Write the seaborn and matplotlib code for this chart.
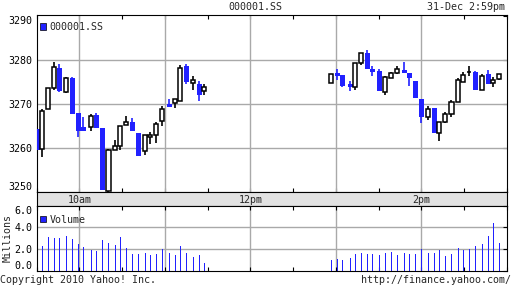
import matplotlib
matplotlib.use("Agg")
import matplotlib.pyplot as plt
import matplotlib.transforms as mtransforms
from matplotlib.patches import Patch
import seaborn as sns
import numpy as np
import pandas as pd

# ---------------- data ----------------
# time of each 000001.SS candle, minutes after 09:30
am_time = [0.5, 4.0, 8.2, 12.5, 16.0, 20.9, 25.1, 29.3, 32.8, 38.4, 41.9, 46.1, 50.4, 55.3, 58.8,
           63.0, 67.2, 71.4, 76.3, 79.8, 84.0, 88.2, 93.2, 97.4, 100.9, 105.1, 110.0, 114.2, 117.7]
pm_time = [206.8, 211.1, 214.6, 220.2, 223.7, 227.9, 232.1, 235.6, 240.5, 244.7, 248.9, 253.2,
           258.1, 261.6, 265.8, 270.0, 274.9, 279.1, 282.6, 286.8, 291.1, 296.0, 299.5, 303.7,
           307.9, 312.8, 317.0, 320.5, 324.7]

am_open = [3264.4, 3259.8, 3268.9, 3273.6, 3278.2, 3272.8, 3276.0, 3268.0, 3264.8, 3264.8, 3267.6,
           3264.6, 3250.3, 3259.5, 3260.5, 3265.2, 3265.9, 3263.4, 3259.3, 3262.5, 3263.0, 3266.1,
           3270.0, 3270.2, 3270.7, 3278.8, 3274.8, 3274.5, 3273.0]
am_high = [3264.4, 3268.9, 3273.6, 3279.5, 3279.2, 3276.1, 3276.1, 3268.0, 3267.0, 3267.7, 3268.0,
           3264.6, 3259.9, 3261.9, 3265.0, 3267.3, 3266.8, 3263.4, 3263.0, 3263.6, 3265.9, 3269.6,
           3271.1, 3271.1, 3278.9, 3279.2, 3276.4, 3275.3, 3274.7]
am_low = [3259.5, 3257.9, 3268.9, 3273.3, 3272.8, 3272.5, 3267.7, 3262.6, 3264.0, 3263.8, 3264.5,
          3250.5, 3250.0, 3259.5, 3259.5, 3265.2, 3263.9, 3258.3, 3258.5, 3260.9, 3261.1, 3265.0,
          3269.4, 3269.2, 3270.7, 3274.5, 3273.2, 3270.8, 3272.0]
am_close = [3259.5, 3268.5, 3273.6, 3278.4, 3273.1, 3275.9, 3267.7, 3263.8, 3264.0, 3267.3, 3264.5,
            3250.5, 3259.6, 3260.5, 3265.0, 3265.9, 3263.9, 3258.3, 3263.0, 3263.0, 3265.5, 3268.9,
            3269.4, 3271.1, 3278.3, 3275.0, 3275.5, 3272.0, 3273.9]

pm_open = [3274.8, 3277.1, 3276.7, 3274.6, 3274.0, 3279.3, 3281.6, 3278.0, 3277.6, 3272.7, 3275.9,
           3277.0, 3277.7, 3277.1, 3275.3, 3271.2, 3267.0, 3269.1, 3263.4, 3266.0, 3267.7, 3270.5,
           3275.0, 3277.3, 3277.3, 3273.2, 3276.9, 3274.8, 3275.7]
pm_high = [3276.8, 3278.0, 3276.7, 3275.3, 3279.3, 3281.7, 3282.3, 3278.7, 3278.0, 3276.4, 3277.4,
           3278.6, 3279.6, 3277.1, 3275.3, 3271.2, 3269.6, 3269.1, 3265.9, 3268.2, 3271.0, 3275.9,
           3277.3, 3278.7, 3277.6, 3276.8, 3277.7, 3276.1, 3276.8]
pm_low = [3274.8, 3275.4, 3273.9, 3272.9, 3273.2, 3279.0, 3278.1, 3276.3, 3272.9, 3272.0, 3275.9,
          3276.8, 3277.2, 3274.2, 3271.3, 3265.8, 3266.3, 3263.5, 3261.7, 3265.8, 3267.0, 3270.5,
          3275.0, 3276.4, 3273.3, 3273.2, 3274.5, 3274.0, 3275.4]
pm_close = [3276.8, 3276.4, 3274.2, 3273.8, 3279.3, 3281.6, 3278.1, 3277.4, 3272.9, 3276.1, 3277.0,
            3278.0, 3277.2, 3276.0, 3271.3, 3267.0, 3268.9, 3263.5, 3265.9, 3267.7, 3270.5, 3275.5,
            3276.6, 3277.3, 3273.3, 3276.4, 3274.5, 3275.5, 3276.8]

# volume, millions
am_volume = [0.0, 2.29, 3.12, 3.03, 3.03, 3.21, 2.94, 2.48, 2.20, 1.93, 1.83, 2.84, 2.57, 2.39, 3.12,
             2.11, 1.56, 1.56, 1.65, 1.47, 1.56, 2.02, 1.65, 1.47, 2.29, 1.65, 1.28, 1.47, 0.73]
pm_volume = [1.01, 1.10, 1.01, 1.19, 1.56, 1.65, 1.56, 1.56, 1.47, 1.65, 1.74, 1.47, 1.65, 1.56, 1.56,
             2.02, 1.65, 1.65, 1.93, 1.38, 1.56, 2.11, 1.93, 2.02, 2.29, 2.48, 3.21, 4.40, 2.57]

price_ticks = [3250, 3260, 3270, 3280, 3290]
volume_ticks = [0.0, 2.0, 4.0, 6.0]
session_labels = ["10am", "12pm", "2pm"]
session_label_pos = [30, 150, 270]
title = "000001.SS"
stamp = "31-Dec 2:59pm"

df = pd.DataFrame({
    "time": am_time + pm_time,
    "open": am_open + pm_open,
    "high": am_high + pm_high,
    "low": am_low + pm_low,
    "close": am_close + pm_close,
    "volume": am_volume + pm_volume,
})

# ---------------- style ----------------
sns.set_theme(style="white", rc={
    "axes.edgecolor": "black", "axes.linewidth": 0.8,
    "xtick.color": "black", "ytick.color": "black",
})
plt.rcParams["font.family"] = ["DejaVu Sans Mono"]
FS = 7.2
BLUE = "#2121ff"
GRID = "#a9a9a9"
BAND = "#e2e2e2"

W, H = 512, 288
fig = plt.figure(figsize=(W / 100, H / 100), dpi=100)


def rect(l, t, r, b):
    return [l / W, 1 - b / H, (r - l) / W, (b - t) / H]


ax = fig.add_axes(rect(36.55, 15, 506.8, 192))
axb = fig.add_axes(rect(36.55, 192, 506.8, 205.7))
axv = fig.add_axes(rect(36.55, 205.7, 506.8, 271))

XMIN, XMAX = 0, 330
half_hours = list(range(0, 331, 30))
hours = [30, 90, 150, 210, 270]

# ---------------- price panel ----------------
up = df[df["close"] >= df["open"]]
dn = df[df["close"] < df["open"]]
ax.vlines(dn["time"], dn["low"], dn["high"], color=BLUE, lw=1.2, zorder=3)
ax.vlines(up["time"], up["low"], up["high"], color="black", lw=1.2, zorder=3)
ax.bar(dn["time"], dn["open"] - dn["close"], bottom=dn["close"], width=3.3,
       color=BLUE, linewidth=0, zorder=4)
ax.bar(up["time"], up["close"] - up["open"], bottom=up["open"], width=3.0,
       facecolor="white", edgecolor="black", linewidth=1.1, zorder=4)

ax.set_xlim(XMIN, XMAX)
ax.set_ylim(3250, 3290.3)
ax.set_yticks(price_ticks)
ax.set_yticklabels([str(v) for v in price_ticks], fontsize=FS)
ax.set_xticks(half_hours)
ax.set_xticklabels([])
for v in [3260, 3270, 3280]:
    ax.axhline(v, color=GRID, lw=1.0, zorder=1)
for h in hours:
    ax.axvline(h, color=GRID, lw=1.0, zorder=1)
ax.tick_params(axis="x", which="both", direction="in", length=3, width=0.8,
               top=True, bottom=True, labelbottom=False)
ax.tick_params(axis="y", direction="in", length=3, width=0.8, left=False, right=True,
               labelleft=True, pad=3)
for lbl in ax.get_yticklabels():
    if lbl.get_text() == "3290":
        lbl.set_va("top")
    if lbl.get_text() == "3250":
        lbl.set_va("bottom")
ax.legend(handles=[Patch(facecolor=BLUE, edgecolor="black", linewidth=0.5, label=title)],
          loc="upper left", bbox_to_anchor=(3.0 / 470, 1 - 7.0 / 177), frameon=False,
          fontsize=FS, handlelength=0.6, handleheight=0.6, handletextpad=0.4,
          borderaxespad=0, borderpad=0)

# ---------------- time band ----------------
axb.set_facecolor(BAND)
axb.set_xlim(XMIN, XMAX)
axb.set_ylim(0, 1)
axb.set_xticks([])
axb.set_yticks([])
tb = mtransforms.blended_transform_factory(axb.transData, axb.transAxes)
for pos, lab in zip(session_label_pos, session_labels):
    axb.text(pos, 0.45, lab, transform=tb, ha="center", va="center", fontsize=FS)

# ---------------- volume panel ----------------
sns.barplot(data=df, x="time", y="volume", native_scale=True, orient="x",
            color=BLUE, saturation=1, width=0.2, errorbar=None, linewidth=0, ax=axv)
for p in axv.patches:
    p.set_snap(True)
axv.set_xlim(XMIN, XMAX)
axv.set_ylim(0, 6)
axv.set_yticks(volume_ticks)
axv.set_yticklabels([f"{v:.1f}" for v in volume_ticks], fontsize=FS)
axv.set_xticks(half_hours)
axv.set_xticklabels([])
axv.set_xlabel("")
axv.set_ylabel("Millions", fontsize=FS, labelpad=1)
for v in [2, 4]:
    axv.axhline(v, color=GRID, lw=1.0, zorder=0)
for h in hours:
    axv.axvline(h, color=GRID, lw=1.0, zorder=0)
axv.tick_params(axis="x", which="both", direction="in", length=3, width=0.8,
                top=True, bottom=True, labelbottom=False)
axv.tick_params(axis="y", direction="in", length=3, width=0.8, left=False, right=True,
                labelleft=True, pad=3)
for lbl in axv.get_yticklabels():
    if lbl.get_text() == "6.0":
        lbl.set_va("top")
    if lbl.get_text() == "0.0":
        lbl.set_va("bottom")
axv.legend(handles=[Patch(facecolor=BLUE, edgecolor="black", linewidth=0.5, label="Volume")],
           loc="upper left", bbox_to_anchor=(3.5 / 470, 1 - 9.0 / 65.3), frameon=False,
           fontsize=FS, handlelength=0.6, handleheight=0.6, handletextpad=0.4,
           borderaxespad=0, borderpad=0)

# ---------------- header / footer ----------------
fig.text(255 / W, 1 - 7 / H, title, ha="center", va="center", fontsize=FS)
fig.text(505 / W, 1 - 7 / H, stamp, ha="right", va="center", fontsize=FS)
fig.text(0.5 / W, 1 - 280 / H, "Copyright 2010 Yahoo! Inc.", ha="left", va="center", fontsize=FS)
fig.text(511 / W, 1 - 280 / H, "http://finance.yahoo.com/", ha="right", va="center", fontsize=FS)

fig.savefig("out.png", dpi=100, facecolor="white")
